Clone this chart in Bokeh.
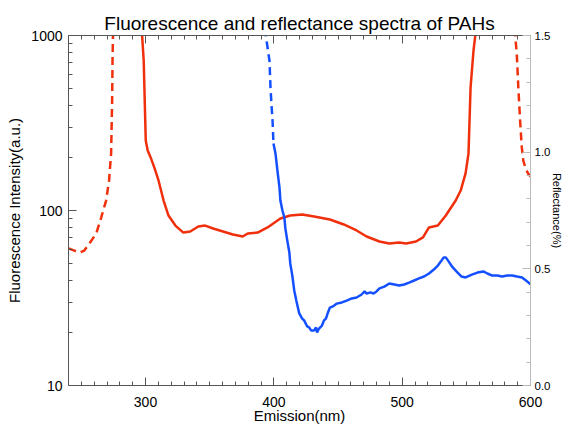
from bokeh.plotting import figure
from bokeh.models import Range1d, LinearAxis, LinearScale, FixedTicker, PrintfTickFormatter, CustomJSTickFormatter
from bokeh.embed import file_html
from bokeh.resources import INLINE

FONT = "Liberation Sans"

# ---------------- data ----------------
red_solid_nm = [297.0, 298.6, 299.4, 300.2, 301.7, 304.0, 307.1, 310.2, 314.1, 317.9,
                323.3, 329.5, 334.9, 341.1, 346.5, 352.7, 360.4, 368.1, 375.8, 379.7,
                387.4, 395.1, 405.1, 412.8, 422.1, 431.4, 443.7, 454.5, 464.5, 472.3,
                482.3, 490.0, 497.7, 503.1, 510.8, 516.2, 520.9, 527.8, 534.0, 541.7,
                545.6, 549.4, 551.7, 553.3, 555.6, 557.9]
red_solid_val = [1100, 720, 425, 251, 220, 201, 174, 148, 114, 93.6,
                 82, 74.8, 75.9, 81, 82, 78.9, 75.9, 72.9, 71.0, 73.9,
                 74.8, 80.0, 90.0, 93.6, 94.9, 92.4, 88.8, 83.2, 76.9, 71.0,
                 66.5, 64.7, 65.6, 64.7, 66.5, 70.2, 80.0, 82, 93.6, 114,
                 130, 163, 212, 505, 821, 1140]

red_dash_left_nm = [240.0, 244.6, 248.5, 252.3, 256.2, 261.6, 265.5, 269.3, 271.6,
                    273.2, 274.0, 274.3, 274.7, 275.0]
red_dash_left_val = [60.7, 59.0, 57.5, 59.0, 64.7, 73.9, 91.2, 114, 148,
                     212, 425, 720, 1027, 1140]

red_dash_right_nm = [587.6, 589.3, 590.5, 591.9, 593.2, 594.4, 596.1, 598.3, 600.3]
red_dash_right_val = [1096, 789, 507, 327, 230, 193, 174, 162, 156]

blue_dash_nm = [392.8, 393.5, 395.1, 396.0, 396.6, 397.4, 398.2, 399.0, 399.7]
blue_dash_val = [1.530, 1.509, 1.449, 1.414, 1.393, 1.277, 1.200, 1.136, 1.037]

blue_solid_nm = [399.7, 401.3, 402.8, 404.4, 405.1, 406.7, 408.2, 409.0, 410.5, 412.1,
                 412.8, 414.4, 415.9, 417.5, 419.8, 422.1, 423.6, 426.0, 427.5, 429.0,
                 431.4, 432.9, 433.7, 435.2, 437.5, 439.1, 440.6, 442.2, 443.7, 446.0,
                 449.1, 453.0, 456.8, 460.7, 464.5, 468.4, 470.7, 472.3, 475.4, 477.7,
                 480.0, 482.3, 486.1, 490.0, 493.9, 497.7, 501.6, 505.4, 509.3, 513.1,
                 517.0, 520.9, 524.7, 527.8, 530.1, 532.4, 534.0, 536.3, 539.4, 543.2,
                 546.3, 549.4, 552.5, 554.8, 558.7, 563.3, 566.4, 570.2, 574.1, 578.0,
                 581.8, 585.7, 589.5, 593.4, 596.5, 600.3]
blue_solid_val = [1.037, 0.994, 0.921, 0.849, 0.793, 0.750, 0.720, 0.673, 0.621, 0.570,
                  0.523, 0.471, 0.407, 0.364, 0.309, 0.287, 0.279, 0.253, 0.249, 0.236,
                  0.236, 0.249, 0.227, 0.244, 0.257, 0.279, 0.287, 0.313, 0.334, 0.339,
                  0.351, 0.356, 0.364, 0.373, 0.377, 0.390, 0.403, 0.394, 0.399, 0.394,
                  0.403, 0.416, 0.424, 0.437, 0.433, 0.429, 0.433, 0.441, 0.450, 0.459,
                  0.467, 0.480, 0.497, 0.514, 0.531, 0.549, 0.549, 0.531, 0.506, 0.484,
                  0.467, 0.463, 0.471, 0.476, 0.484, 0.489, 0.480, 0.471, 0.471, 0.467,
                  0.471, 0.471, 0.467, 0.463, 0.450, 0.433]

x_major = [300, 400, 500, 600]
x_minor = [v for v in range(250, 600, 10) if v % 100 != 0]
y_major = [10, 100, 1000]
y_minor = [20, 30, 40, 50, 60, 70, 80, 90, 200, 300, 400, 500, 600, 700, 800, 900]
r_major = [0.0, 0.5, 1.0, 1.5]
r_minor = [0.1, 0.2, 0.3, 0.4, 0.6, 0.7, 0.8, 0.9, 1.1, 1.2, 1.3, 1.4]

RED = "#f0300c"
BLUE = "#1450ff"
AXC = "#555555"

# ---------------- figure ----------------
p = figure(width=566, height=428, output_backend="svg", toolbar_location=None,
           x_range=Range1d(240, 600), y_range=Range1d(10, 1000), y_axis_type="log",
           min_border_left=68, min_border_right=20, min_border_top=35, min_border_bottom=43,
           title="Fluorescence and reflectance spectra of PAHs")
p.extra_y_ranges = {"refl": Range1d(0.0, 1.5)}
p.extra_y_scales = {"refl": LinearScale()}
p.outline_line_color = None
p.xgrid.visible = False
p.ygrid.visible = False
p.background_fill_color = "white"
p.border_fill_color = "white"

p.title.align = "center"
p.title.text_font = FONT
p.title.text_font_size = "19px"
p.title.text_font_style = "normal"
p.title.text_color = "black"
p.title.standoff = 4


def style(ax, size="14px"):
    ax.axis_line_color = AXC
    ax.axis_line_width = 1
    ax.major_tick_line_color = AXC
    ax.minor_tick_line_color = AXC
    ax.major_tick_in = 8
    ax.major_tick_out = 0
    ax.minor_tick_in = 4
    ax.minor_tick_out = 0
    ax.major_label_text_font = FONT
    ax.major_label_text_font_size = size
    ax.major_label_text_color = "black"
    ax.axis_label_text_font = FONT
    ax.axis_label_text_font_style = "normal"
    ax.axis_label_text_color = "black"


xa = p.xaxis[0]
style(xa)
xa.ticker = FixedTicker(ticks=x_major, minor_ticks=x_minor)
xa.axis_label = "Emission(nm)"
xa.axis_label_text_font_size = "15px"
xa.major_label_standoff = 11
xa.axis_label_standoff = -3

ya = p.yaxis[0]
style(ya)
ya.ticker = FixedTicker(ticks=y_major, minor_ticks=y_minor)
ya.formatter = PrintfTickFormatter(format="%d")
ya.axis_label = "Fluorescence Intensity(a.u.)"
ya.axis_label_text_font_size = "15px"
ya.major_label_standoff = 6
ya.axis_label_standoff = 5

top = LinearAxis(ticker=FixedTicker(ticks=x_major, minor_ticks=x_minor),
                 formatter=CustomJSTickFormatter(code="return ''"))
style(top)
top.major_label_standoff = 0
p.add_layout(top, "above")

ra = LinearAxis(y_range_name="refl",
                ticker=FixedTicker(ticks=r_major, minor_ticks=r_minor),
                formatter=PrintfTickFormatter(format="%.1f"))
style(ra, "11.5px")
ra.axis_line_color = "#bbbbbb"
ra.major_tick_line_color = "#bbbbbb"
ra.minor_tick_line_color = "#bbbbbb"
ra.axis_label = "Reflectance(%)"
ra.axis_label_text_font_size = "11px"
ra.major_label_standoff = 4
ra.axis_label_standoff = -2
p.add_layout(ra, "right")

# ---------------- lines ----------------
p.line(red_dash_left_nm, red_dash_left_val, line_color=RED, line_width=2.5, line_dash="8 5")
p.line(red_dash_right_nm, red_dash_right_val, line_color=RED, line_width=2.5, line_dash="8 5")
p.line(red_solid_nm, red_solid_val, line_color=RED, line_width=2.5)
p.line(blue_dash_nm, blue_dash_val, line_color=BLUE, line_width=2.5, line_dash="8 5",
       y_range_name="refl")
p.line(blue_solid_nm, blue_solid_val, line_color=BLUE, line_width=2.5, y_range_name="refl")

open("out.html", "w").write(file_html(p, INLINE))
